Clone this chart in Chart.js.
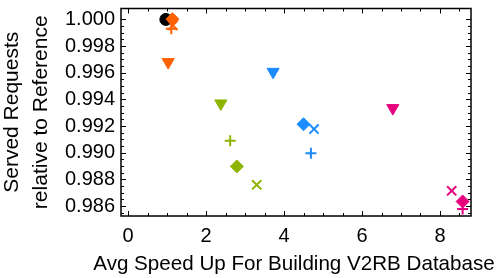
<!DOCTYPE html>
<html>
<head>
<meta charset="utf-8">
<script src="https://cdn.jsdelivr.net/npm/chart.js@4.4.1/dist/chart.umd.min.js"></script>
<style>
  html, body { margin: 0; padding: 0; background: #fff; }
</style>
</head>
<body>
<canvas id="speedChart" width="500" height="278"></canvas>
<script>
// marker order inside each colour group: triangle down, plus, x, diamond
const markerStyles = ['triangle', 'cross', 'crossRot', 'rectRot'];
const markerRotation = [180, 0, 0, 0];
const markerSize = [7, 5.5, 6.5, 6.5];

const baseX = [0.97];
const baseY = [1.0];

const orangeX = [1.03, 1.11, 1.15, 1.14];
const orangeY = [0.99680, 0.99930, 0.99955, 1.00002];

const greenX = [2.38, 2.62, 3.30, 2.79];
const greenY = [0.99370, 0.99090, 0.98760, 0.98898];

const blueX = [3.72, 4.69, 4.77, 4.50];
const blueY = [0.99607, 0.98996, 0.99178, 0.99214];

const pinkX = [6.79, 8.58, 8.30, 8.58];
const pinkY = [0.99335, 0.98578, 0.98715, 0.98635];

const xTicks = [0, 2, 4, 6, 8];
const yTicks = [0.986, 0.988, 0.990, 0.992, 0.994, 0.996, 0.998, 1.000];

const xTitle = 'Avg Speed Up For Building V2RB Database';
const yTitle = ['Served Requests', 'relative to Reference'];

const FONT = "'Liberation Sans', Arial, sans-serif";

function toPoints(xs, ys) {
    return xs.map((x, i) => ({ x: x, y: ys[i] }));
}

function markerSet(label, color, xs, ys) {
    return {
        label: label,
        data: toPoints(xs, ys),
        pointStyle: markerStyles,
        pointRotation: markerRotation,
        pointRadius: markerSize,
        pointHoverRadius: markerSize,
        backgroundColor: color,
        borderColor: color,
        pointBorderWidth: [1, 2, 2, 1],
        showLine: false
    };
}

// Mathematica style frame: box on all four sides with ticks pointing inwards
const framePlugin = {
    id: 'frame',
    afterDatasetsDraw(chart) {
        const ctx = chart.ctx;
        const a = chart.chartArea;
        const xs = chart.scales.x;
        const ys = chart.scales.y;
        ctx.save();
        ctx.strokeStyle = '#000';
        ctx.lineWidth = 1.5;
        ctx.strokeRect(a.left, a.top, a.right - a.left, a.bottom - a.top);
        ctx.lineWidth = 1;
        ctx.beginPath();
        for (let v = 0; v <= 8.5 + 1e-9; v += 0.5) {
            const px = Math.round(xs.getPixelForValue(v)) + 0.5;
            const len = Math.abs(v % 2) < 1e-9 ? 5 : 3;
            ctx.moveTo(px, a.bottom); ctx.lineTo(px, a.bottom - len);
            ctx.moveTo(px, a.top); ctx.lineTo(px, a.top + len);
        }
        for (let k = 0; k <= 29; k++) {
            const v = 0.9855 + k * 0.0005;
            if (v < ys.min || v > ys.max) continue;
            const py = Math.round(ys.getPixelForValue(v)) + 0.5;
            const len = (k % 4 === 1) ? 5 : 3;
            ctx.moveTo(a.left, py); ctx.lineTo(a.left + len, py);
            ctx.moveTo(a.right, py); ctx.lineTo(a.right - len, py);
        }
        ctx.stroke();

        // x axis caption is wider than the plot area, so the built in
        // scale title would squeeze it; draw it centred under the frame instead
        ctx.fillStyle = '#000';
        ctx.font = '20.6px ' + FONT;
        ctx.textAlign = 'center';
        ctx.textBaseline = 'middle';
        ctx.fillText(xTitle, (a.left + a.right) / 2 - 2, xs.bottom - 14);
        ctx.restore();
    }
};

const ctx = document.getElementById('speedChart').getContext('2d');
new Chart(ctx, {
    type: 'scatter',
    data: {
        datasets: [
            markerSet('orange', '#ff6000', orangeX, orangeY),
            markerSet('green', '#8cb400', greenX, greenY),
            markerSet('blue', '#1a8cff', blueX, blueY),
            markerSet('pink', '#e6007e', pinkX, pinkY),
            {
                label: 'reference',
                data: toPoints(baseX, baseY),
                pointStyle: 'circle',
                pointRadius: 6,
                backgroundColor: '#000',
                borderColor: '#000',
                showLine: false
            }
        ]
    },
    options: {
        responsive: false,
        animation: false,
        devicePixelRatio: 1,
        layout: { padding: { top: 2, right: 29, left: 0, bottom: 0 } },
        plugins: {
            legend: { display: false },
            tooltip: { enabled: false }
        },
        scales: {
            x: {
                type: 'linear',
                min: -0.18,
                max: 8.795,
                border: { display: false },
                grid: { display: false, drawTicks: false },
                afterBuildTicks: (scale) => { scale.ticks = xTicks.map(v => ({ value: v })); },
                afterFit: (scale) => {
                    scale.height = 62;
                    scale.paddingLeft = 0;
                    scale.paddingRight = 0;
                },
                ticks: {
                    color: '#000',
                    padding: 8,
                    maxRotation: 0,
                    font: { family: FONT, size: 20 },
                    callback: (v) => String(v)
                },
                title: { display: false }
            },
            y: {
                type: 'linear',
                min: 0.98526,
                max: 1.00082,
                border: { display: false },
                grid: { display: false, drawTicks: false },
                afterBuildTicks: (scale) => { scale.ticks = yTicks.map(v => ({ value: v })); },
                afterFit: (scale) => {
                    scale.width = 121;
                    scale.paddingTop = 0;
                    scale.paddingBottom = 0;
                },
                ticks: {
                    color: '#000',
                    padding: 6,
                    font: { family: FONT, size: 20 },
                    callback: (v) => Number(v).toFixed(3)
                },
                title: {
                    display: true,
                    text: yTitle,
                    color: '#000',
                    font: { family: FONT, size: 21, lineHeight: 1.38 },
                    padding: { top: -2.5, bottom: 0 }
                }
            }
        }
    },
    plugins: [framePlugin]
});
</script>
</body>
</html>
